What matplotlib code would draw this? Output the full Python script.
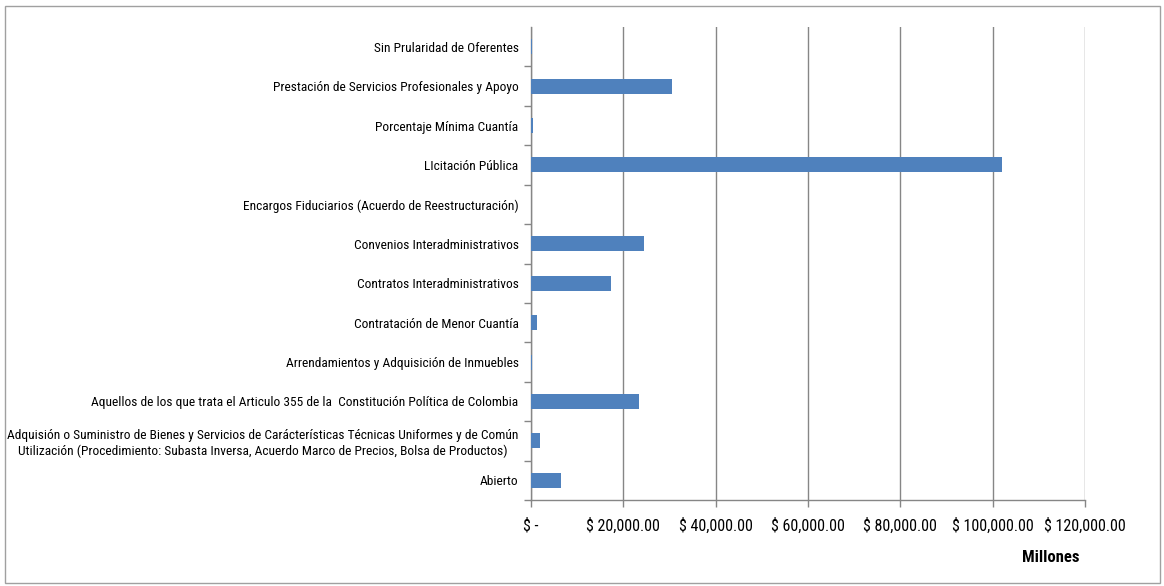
import matplotlib.pyplot as plt
import matplotlib.patches as mpatches
from matplotlib.ticker import FixedLocator

# categories listed bottom to top
categories = [
    "Abierto",
    "Adquisión o Suministro de Bienes y Servicios de Carácterísticas Técnicas Uniformes y de Común\n"
    "Utilización (Procedimiento: Subasta Inversa, Acuerdo Marco de Precios, Bolsa de Productos)",
    "Aquellos de los que trata el Articulo 355 de la  Constitución Política de Colombia",
    "Arrendamientos y Adquisición de Inmuebles",
    "Contratación de Menor Cuantía",
    "Contratos Interadministrativos",
    "Convenios Interadministrativos",
    "Encargos Fiduciarios (Acuerdo de Reestructuración)",
    "LIcitación Pública",
    "Porcentaje Mínima Cuantía",
    "Prestación de Servicios Profesionales y Apoyo",
    "Sin Prularidad de Oferentes",
]
values = [6430, 2000, 23470, 120, 1370, 17340, 24500, 100, 102000, 400, 30550, 150]

xticks = [0, 20000, 40000, 60000, 80000, 100000, 120000]
xticklabels = ["$ -", "$ 20,000.00", "$ 40,000.00", "$ 60,000.00",
               "$ 80,000.00", "$ 100,000.00", "$ 120,000.00"]

plt.rcParams['font.family'] = ['Roboto Condensed', 'DejaVu Sans']

fig = plt.figure(figsize=(11.64, 5.86), dpi=100)
ax = fig.add_axes([531 / 1164, 1 - 500 / 586, (1085 - 531) / 1164, (500 - 27) / 586])

pos = list(range(len(categories)))
ax.barh(pos, values, height=0.38, color='#4F81BD', zorder=3)

ax.set_xlim(0, 120000)
ax.set_ylim(-0.5, len(categories) - 0.5)
ax.set_xticks(xticks)
ax.set_xticklabels(xticklabels, fontsize=11.5)
ax.set_yticks(pos)
ax.set_yticklabels(categories, fontsize=9.6, multialignment='center')
ax.tick_params(axis='y', length=0, pad=9)
ax.yaxis.set_minor_locator(FixedLocator([p + 0.5 for p in pos[:-1]] + [-0.5]))
ax.tick_params(axis='y', which='minor', length=5, color='#868686', width=1)
ax.tick_params(axis='x', length=5, color='#868686', width=1, pad=8)

ax.grid(axis='x', color='#868686', linewidth=1, zorder=0)
for s in ['top', 'right']:
    ax.spines[s].set_visible(False)
for s in ['left', 'bottom']:
    ax.spines[s].set_color('#868686')
    ax.spines[s].set_linewidth(1)

fig.text(1051 / 1164, 1 - 557 / 586, "Millones", fontsize=12, fontweight='bold',
         ha='center', va='center')

fig.patches.append(mpatches.Rectangle((4.5 / 1164, 1 - 583 / 586), 1155 / 1164, 577 / 586,
                                      transform=fig.transFigure,
                                      fill=False, edgecolor='#A0A0A0', linewidth=1))

fig.savefig('out.png', dpi=100)
